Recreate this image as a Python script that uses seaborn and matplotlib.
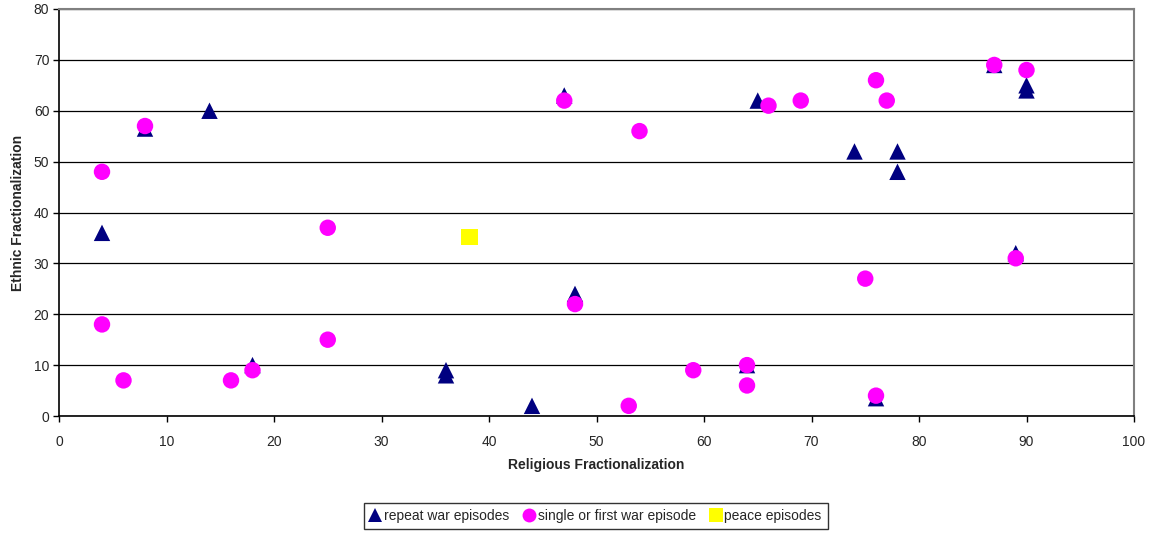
import matplotlib
matplotlib.use("Agg")
import matplotlib.pyplot as plt
import seaborn as sns
import pandas as pd
from matplotlib.lines import Line2D

# ---- data ----
repeat_x = [4, 8, 14, 18, 36, 36, 44, 47, 48, 64, 65, 74, 78, 78, 76, 87, 89, 90, 90]
repeat_y = [36, 56.5, 60, 10, 8, 9, 2, 63, 24, 10, 62, 52, 52, 48, 3.5, 69, 32, 65, 64]

single_x = [4, 4, 6, 8, 16, 18, 25, 25, 47, 48, 53, 54, 59, 64, 64, 66, 69, 75, 76, 77, 76, 87, 89, 90]
single_y = [48, 18, 7, 57, 7, 9, 37, 15, 62, 22, 2, 56, 9, 10, 6, 61, 62, 27, 66, 62, 4, 69, 31, 68]

peace_x = [38.2]
peace_y = [35.2]

series_names = ["repeat war episodes", "single or first war episode", "peace episodes"]
x_ticks = list(range(0, 101, 10))
y_ticks = list(range(0, 81, 10))

df = pd.concat([
    pd.DataFrame({"x": repeat_x, "y": repeat_y, "series": series_names[0]}),
    pd.DataFrame({"x": single_x, "y": single_y, "series": series_names[1]}),
    pd.DataFrame({"x": peace_x, "y": peace_y, "series": series_names[2]}),
], ignore_index=True)

colors = {series_names[0]: "#000080", series_names[1]: "#FF00FF", series_names[2]: "#FFFF00"}
markers = {series_names[0]: "^", series_names[1]: "o", series_names[2]: "s"}

sns.set_style("white")
plt.rcParams["font.family"] = ["Liberation Sans", "DejaVu Sans"]

fig = plt.figure(figsize=(11.53, 5.33), dpi=100)
ax = fig.add_axes([59 / 1153, 1 - 416 / 533, (1134 - 59) / 1153, (416 - 9) / 533])

sns.scatterplot(data=df, x="x", y="y", hue="series", style="series",
                palette=colors, markers=markers, s=140, linewidth=0,
                edgecolor="none", legend=False, ax=ax, zorder=3)

ax.set_xlim(0, 100)
ax.set_ylim(0, 80)
ax.set_xticks(x_ticks)
ax.set_yticks(y_ticks)
ax.tick_params(axis="both", labelsize=10, direction="out", length=4, width=1,
               color="black", left=True, bottom=True)
ax.tick_params(axis="x", pad=10)
ax.tick_params(axis="y", pad=3)
ax.yaxis.grid(True, color="black", linewidth=0.9)
ax.set_axisbelow(True)

for side in ["top", "right"]:
    ax.spines[side].set_color("#808080")
    ax.spines[side].set_linewidth(1.5)
for side in ["left", "bottom"]:
    ax.spines[side].set_color("black")
    ax.spines[side].set_linewidth(1.2)

ax.set_xlabel("Religious Fractionalization", fontsize=10, fontweight="bold", labelpad=6)
ax.set_ylabel("Ethnic Fractionalization", fontsize=10, fontweight="bold", labelpad=6)

handles = [Line2D([], [], linestyle="none", marker=markers[n], color=colors[n],
                  markersize=10, markeredgewidth=0) for n in series_names]
leg = fig.legend(handles, series_names, loc="center", bbox_to_anchor=(596 / 1153, 1 - 516 / 533),
                 ncol=3, frameon=True, fancybox=False, fontsize=10, handlelength=0.7,
                 handletextpad=0.25, columnspacing=1.1, borderpad=0.45, borderaxespad=0)
leg.get_frame().set_edgecolor("black")
leg.get_frame().set_linewidth(1)

fig.savefig("out.png", dpi=100)
